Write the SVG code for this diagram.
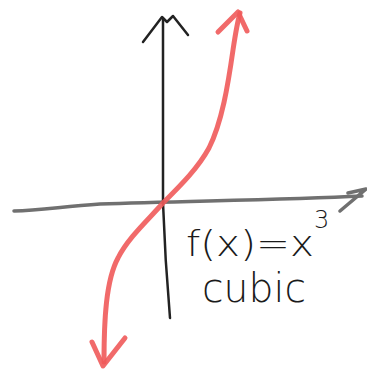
<svg xmlns="http://www.w3.org/2000/svg" width="367" height="371" viewBox="0 0 367 371">
<style>
.ax{fill:none;stroke:#222;stroke-width:2.5;stroke-linecap:round;stroke-linejoin:round}
.xa{fill:none;stroke:#707070;stroke-width:3.5;stroke-linecap:round;stroke-linejoin:round}
.cv{fill:none;stroke:#f05a5a;stroke-width:5;stroke-linecap:round;stroke-linejoin:round;opacity:0.9}
.t{font-family:"DejaVu Sans","Liberation Sans",sans-serif;fill:#1a1a1a;font-weight:200}
</style>
<rect width="367" height="371" fill="#fff"/>
<g id="connectors">
<g id="x-axis">
<path class="xa" d="M14,211 C40,210 60,207 100,204 C180,201 280,200 362,196"/>
<path class="xa" d="M348,193 L366,189 L340,211"/>
</g>
<g id="y-axis">
<path class="ax" d="M163,20 L163,203 Q165,260 170,318"/>
<path class="ax" d="M143,42 L162,17 L167,22 L173,16 L188,35"/>
</g>
<g id="curve">
<path class="cv" d="M104,362 C104,320 106,280 118,258 C128,238 148,220 163,203 C182,184 198,168 209,148 C222,122 228,85 233,50 C236,30 238,20 240,13"/>
<path class="cv" d="M218,32 L238,12 L247,31"/>
<path class="cv" d="M92,342 L103,366 L125,338"/>
</g>
</g>
<g id="label">
<text class="t" x="186" y="256" font-size="36" textLength="128" lengthAdjust="spacingAndGlyphs">f(x)=x</text>
<text class="t" x="314" y="228" font-size="24">3</text>
<text class="t" x="202" y="302" font-size="40" textLength="104" lengthAdjust="spacingAndGlyphs">cubic</text>
</g>
</svg>
